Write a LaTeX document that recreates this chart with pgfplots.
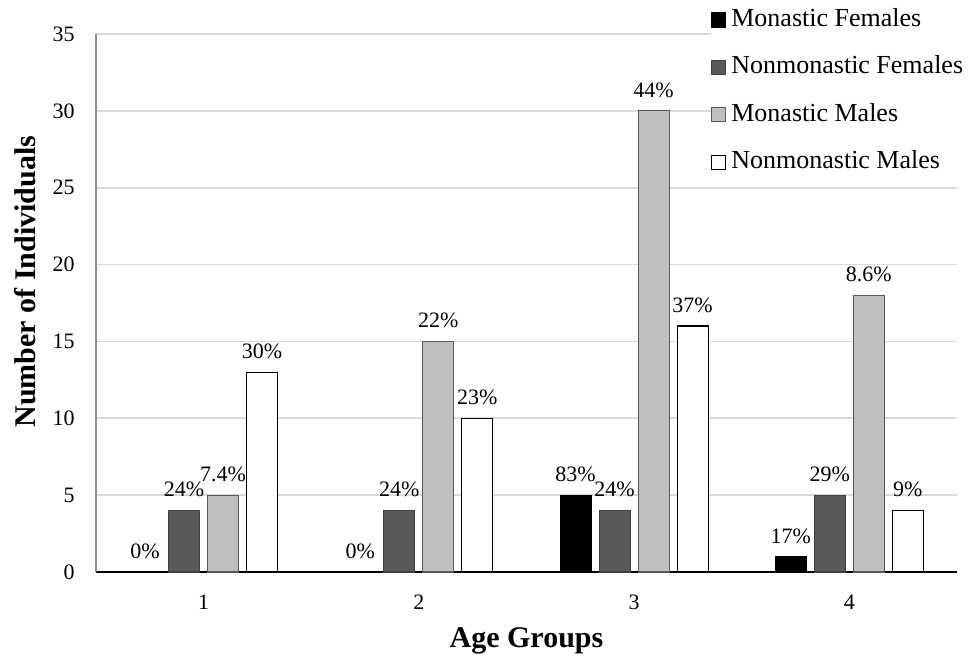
\documentclass[border=0pt]{standalone}
\usepackage{pgfplots}
\pgfplotsset{compat=1.18}
\usepackage{pgfplotstable}
\usepackage{fontspec}
\setmainfont{Liberation Serif}
\definecolor{dgray}{HTML}{595959}
\definecolor{lgray}{HTML}{BFBFBF}
\definecolor{gridc}{HTML}{D9D9D9}
\pgfplotstableread{
x mf mfl nf nfl mm mml nm nml
1 0 0 4 24 5 7.4 13 30
2 0 0 4 24 15 22 10 23
3 5 83 4 24 30 44 16 37
4 1 17 5 29 18 8.6 4 9
}\datatable
\begin{document}
\begin{tikzpicture}
\path[use as bounding box] (-48pt,-41.5pt) rectangle (441.5pt,286pt);
\begin{axis}[
  scale only axis,
  width=430.5pt, height=269pt,
  xmin=0.5, xmax=4.5, ymin=0, ymax=35,
  xtick={1,2,3,4}, ytick={0,5,...,35},
  axis x line=bottom, axis y line=left,
  x axis line style={-, black, line width=1pt},
  y axis line style={-, gray!90, line width=0.8pt},
  major tick length=0pt, tick style={draw=none},
  ymajorgrids, grid style={gridc, line width=0.8pt},
  /pgf/number format/assume math mode=true,
  ticklabel style={font=\fontsize{11}{13}\selectfont},
  yticklabel style={inner sep=0pt, anchor=east, xshift=-10.5pt},
  xticklabel style={inner sep=0pt, anchor=north, yshift=-11.5pt},
  ybar=4pt, bar width=15.5pt,
  clip=false,
  point meta=explicit symbolic,
  nodes near coords={\pgfplotspointmeta\%},
  every node near coord/.append style={font=\fontsize{11}{13}\selectfont, yshift=3pt},
  xlabel={Age Groups}, ylabel={Number of Individuals},
  every axis x label/.style={at={(axis description cs:0.5,0)}, anchor=base, yshift=-37.5pt, font=\fontsize{15}{18}\selectfont\bfseries},
  every axis y label/.style={at={(axis description cs:-0.0825,0.54)}, rotate=90, anchor=center, font=\fontsize{15}{18}\selectfont\bfseries},
  legend cell align=left,
  legend image code/.code={\draw[#1] (0pt,-3.5pt) rectangle (7pt,3.5pt);},
  legend style={draw=none, fill=white, font=\fontsize{13}{15}\selectfont,
    at={(rel axis cs:0.714,1.052)}, anchor=north west, inner sep=0pt, row sep=10.2pt,
    nodes={inner sep=1pt, text height=9pt, text depth=2.5pt},
    /tikz/every odd column/.append style={column sep=1.5pt}},
]
\addplot[fill=black, draw=black, line width=0.6pt] table[x=x, y=mf, meta=mfl]{\datatable};
\addplot[fill=dgray, draw=black!75, line width=0.6pt] table[x=x, y=nf, meta=nfl]{\datatable};
\addplot[fill=lgray, draw=black!65, line width=0.6pt] table[x=x, y=mm, meta=mml]{\datatable};
\addplot[fill=white, draw=black, line width=0.6pt] table[x=x, y=nm, meta=nml]{\datatable};
\legend{Monastic Females, Nonmonastic Females, Monastic Males, Nonmonastic Males}
\end{axis}
\end{tikzpicture}
\end{document}
